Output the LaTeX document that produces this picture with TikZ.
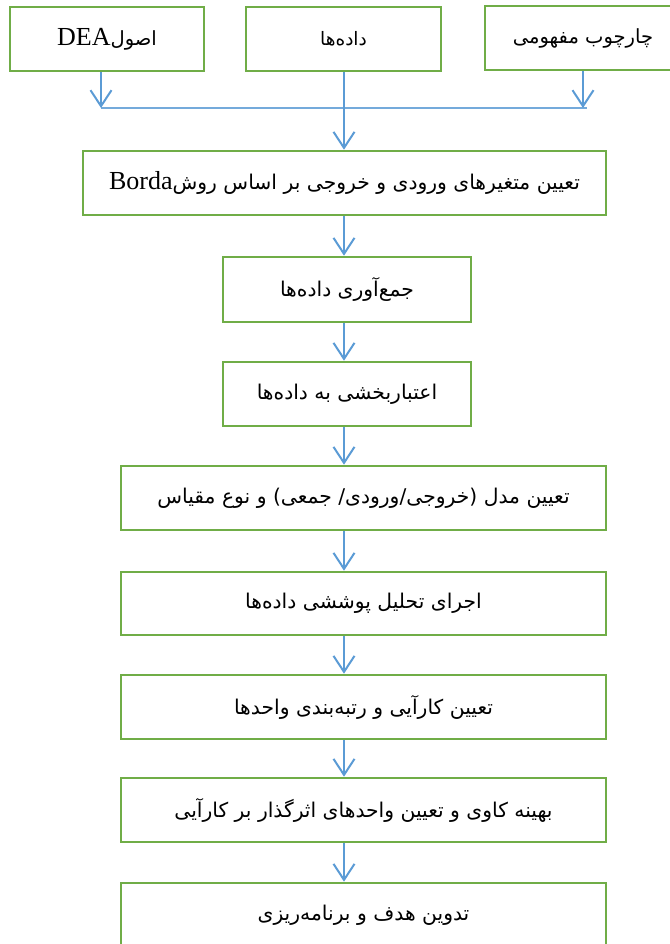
\documentclass[tikz,border=0pt]{standalone}
\usepackage{fontspec}
\setmainfont{Liberation Serif}
\newfontfamily\fa[Script=Arabic]{DejaVu Sans}
\TeXXeTstate=1
\usetikzlibrary{arrows.meta}
\definecolor{boxgreen}{HTML}{70AD47}
\definecolor{arrblue}{HTML}{5B9BD5}
\newcommand{\fasize}[1]{\fontsize{#1}{#1}\selectfont\fa}
\newcommand{\latn}[1]{\beginL{\fontsize{26}{28}\selectfont\rmfamily #1}\endL}
\tikzset{
  stepbox/.style={draw=boxgreen, line width=2.6pt, fill=white, inner sep=0pt, minimum height=64pt, anchor=center, font=\fontsize{26}{28}\selectfont},
  arr/.style={draw=arrblue, line width=2pt, -{Straight Barb[length=16pt,width=21pt]}},
  hline/.style={draw=arrblue!85, line width=1.3pt},
}
\begin{document}
\begin{tikzpicture}[x=1pt,y=-1pt]
\useasboundingbox (0,0) rectangle (669,944);
% top boxes
\node[stepbox, minimum width=194pt] (b1) at (107,39) {\fasize{19.5}\beginR اصول\latn{DEA}\endR};
\node[stepbox, minimum width=195pt] (b2) at (343.5,39) {\fasize{18.5}\beginR داده‌ها\endR};
\node[stepbox, minimum width=196pt] (b3) at (583,38) {\fasize{19.5}\beginR چارچوب مفهومی\endR};
% main column
\node[stepbox, minimum width=523pt] (b4) at (344.5,183) {\fasize{20.3}\beginR تعیین متغیرهای ورودی و خروجی بر اساس روش\latn{Borda}\endR};
\node[stepbox, minimum width=248pt, minimum height=65pt] (b5) at (347,289.5) {\fasize{20.3}\beginR جمع‌آوری داده‌ها\endR};
\node[stepbox, minimum width=248pt] (b6) at (347,394) {\fasize{20.3}\beginR اعتباربخشی به داده‌ها\endR};
\node[stepbox, minimum width=485pt] (b7) at (363.5,498) {\fasize{20.3}\beginR تعیین مدل (خروجی/ورودی/ جمعی) و نوع مقیاس\endR};
\node[stepbox, minimum width=485pt, minimum height=63pt] (b8) at (363.5,603.5) {\fasize{20.3}\beginR اجرای تحلیل پوششی داده‌ها\endR};
\node[stepbox, minimum width=485pt] (b9) at (363.5,707) {\fasize{20.3}\beginR تعیین کارآیی و رتبه‌بندی واحدها\endR};
\node[stepbox, minimum width=485pt] (b10) at (363.5,810) {\fasize{20.3}\beginR بهینه کاوی و تعیین واحدهای اثرگذار بر کارآیی\endR};
\node[stepbox, minimum width=485pt] (b11) at (363.5,915) {\fasize{20.3}\beginR تدوین هدف و برنامه‌ریزی\endR};
% connectors
\coordinate (jl) at (101,108);
\coordinate (jr) at (583,108);
\coordinate (je) at (587,108);
\coordinate (ax) at (344,0);
\draw[hline] (jl) -- (je);
\draw[arr] (b1.south -| jl) -- (jl);
\draw[arr] (b3.south -| jr) -- (jr);
\draw[arr] (b2.south -| ax) -- (b4.north -| ax);
\draw[arr] (b4.south -| ax) -- (b5.north -| ax);
\draw[arr] (b5.south -| ax) -- (b6.north -| ax);
\draw[arr] (b6.south -| ax) -- (b7.north -| ax);
\draw[arr] (b7.south -| ax) -- (b8.north -| ax);
\draw[arr] (b8.south -| ax) -- (b9.north -| ax);
\draw[arr] (b9.south -| ax) -- (b10.north -| ax);
\draw[arr] (b10.south -| ax) -- (b11.north -| ax);
\end{tikzpicture}
\end{document}
